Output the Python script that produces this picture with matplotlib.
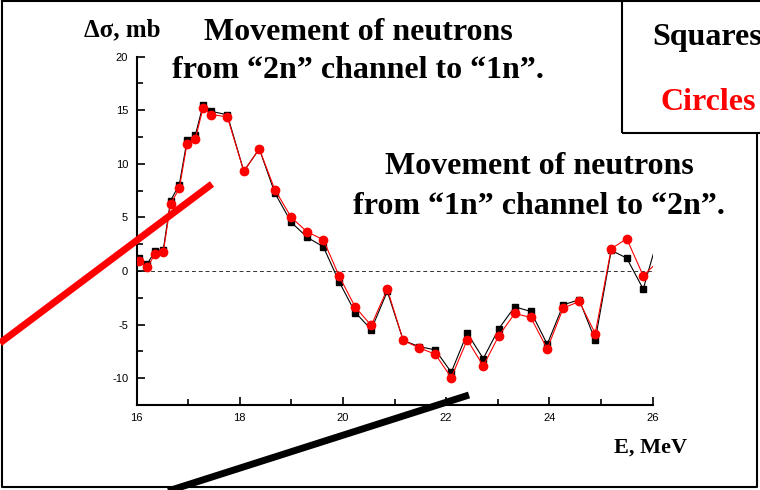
import matplotlib
matplotlib.use("Agg")
import matplotlib.pyplot as plt
from matplotlib.lines import Line2D
from matplotlib.patches import Rectangle
from matplotlib.ticker import MultipleLocator

plt.rcParams["axes.unicode_minus"] = False

# energies (MeV) and cross-section differences (mb)
energy = [16.05, 16.21, 16.36, 16.52, 16.66, 16.83, 16.98, 17.14, 17.29, 17.45,
          17.76, 18.08, 18.38, 18.68, 19.00, 19.31, 19.62, 19.93, 20.24, 20.55,
          20.86, 21.17, 21.48, 21.79, 22.10, 22.41, 22.72, 23.02, 23.33, 23.64,
          23.96, 24.27, 24.58, 24.89, 25.20, 25.50, 25.82, 26.13]
squares = [1.2, 0.68, 1.87, 2.0, 6.57, 8.07, 12.2, 12.67, 15.5, 14.9,
           14.58, 9.31, 11.4, 7.29, 4.54, 3.14, 2.27, -1.03, -3.87, -5.46,
           -1.9, -6.48, -7.05, -7.36, -9.44, -5.8, -8.17, -5.39, -3.34, -3.77,
           -6.83, -3.15, -2.68, -6.45, 1.93, 1.21, -1.68, 3.5]
circles = [0.9, 0.34, 1.62, 1.78, 6.26, 7.72, 11.9, 12.33, 15.23, 14.6,
           14.39, 9.31, 11.4, 7.6, 5.0, 3.64, 2.93, -0.5, -3.37, -5.08,
           -1.68, -6.48, -7.17, -7.76, -9.94, -6.42, -8.85, -6.05, -3.96, -4.33,
           -7.26, -3.46, -2.84, -5.83, 2.08, 3.02, -0.44, 1.0]

W, H = 760, 490
fig = plt.figure(figsize=(7.6, 4.9), dpi=100)
serif = "Liberation Serif"

def fx(px):
    return px / W

def fy(py):
    return 1 - py / H

ax = fig.add_axes([fx(136.5), fy(405), (652.5 - 136.5) / W, (405 - 56.7) / H])
ax.plot(energy, squares, color="black", lw=0.8, marker="s", ms=5, zorder=3)
ax.plot(energy, circles, color="red", lw=0.8, marker="o", ms=6, zorder=4)
ax.axhline(0, color="#333333", lw=0.7, ls=(0, (4, 3)), zorder=1)

ax.set_xlim(16, 26)
ax.set_ylim(-12.5, 20)
ax.xaxis.set_major_locator(MultipleLocator(2))
ax.xaxis.set_minor_locator(MultipleLocator(1))
ax.yaxis.set_major_locator(MultipleLocator(5))
ax.yaxis.set_minor_locator(MultipleLocator(2.5))
ax.tick_params(which="both", direction="in", width=1.2, labelsize=8, pad=6)
ax.tick_params(which="major", length=6)
ax.tick_params(which="minor", length=4)
for lab in ax.get_xticklabels() + ax.get_yticklabels():
    lab.set_family("Liberation Sans")
for s in ["top", "right"]:
    ax.spines[s].set_visible(False)
for s in ["left", "bottom"]:
    ax.spines[s].set_linewidth(1.5)

# texts
fig.text(fx(122), fy(30), "Δσ, mb", family=serif, weight="bold", fontsize=18,
         ha="center", va="center")
fig.text(fx(358), fy(33), "Movement of neutrons", family=serif, weight="bold",
         fontsize=23, ha="center", va="center")
fig.text(fx(358), fy(71), "from “2n” channel to “1n”.", family=serif, weight="bold",
         fontsize=23, ha="center", va="center")
fig.text(fx(539), fy(166), "Movement of neutrons", family=serif, weight="bold",
         fontsize=23, ha="center", va="center")
fig.text(fx(539), fy(207), "from “1n” channel to “2n”.", family=serif, weight="bold",
         fontsize=23, ha="center", va="center")
fig.text(fx(651), fy(448), "E, MeV", family=serif, weight="bold", fontsize=16,
         ha="center", va="center")

# legend box cut by the right edge
fig.add_artist(Rectangle((fx(622), fy(133)), fx(160), (133 - 1.5) / H,
                         transform=fig.transFigure, fill=False, lw=1.5,
                         edgecolor="black", clip_on=False))
fig.text(fx(652), fy(38), "Squares", family=serif, weight="bold", fontsize=23,
         color="black", ha="left", va="center")
fig.text(fx(661), fy(102), "Circles", family=serif, weight="bold", fontsize=23,
         color="red", ha="left", va="center")

# outer frame
fig.add_artist(Line2D([fx(2), fx(2), fx(757), fx(757)],
                      [fy(1), fy(487), fy(487), fy(133)],
                      transform=fig.transFigure, color="black", lw=1.5))
fig.add_artist(Line2D([fx(2), fx(622)], [fy(1), fy(1)],
                      transform=fig.transFigure, color="black", lw=1.5))

# pointer strokes
fig.add_artist(Line2D([fx(0), fx(212)], [fy(343), fy(184)],
                      transform=fig.transFigure, color="red", lw=5,
                      solid_capstyle="butt"))
fig.add_artist(Line2D([fx(165), fx(469)], [fy(492), fy(395)],
                      transform=fig.transFigure, color="black", lw=5,
                      solid_capstyle="butt"))

fig.savefig("out.png", dpi=100)
